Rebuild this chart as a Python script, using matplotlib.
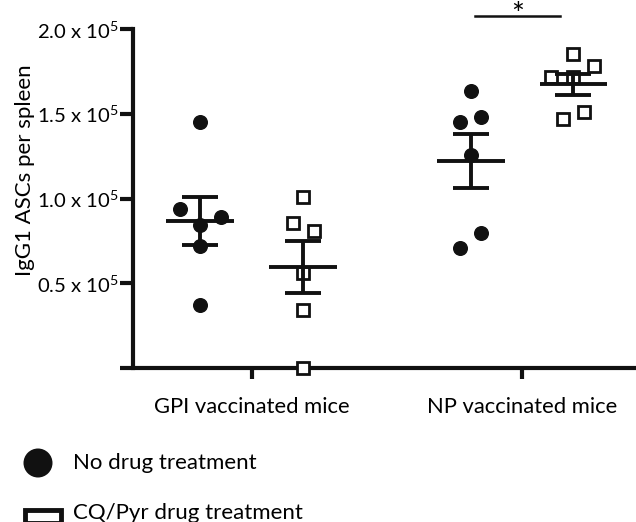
import matplotlib
matplotlib.use("Agg")
import matplotlib.pyplot as plt
import numpy as np
from matplotlib.patches import Ellipse, Rectangle

plt.rcParams['font.family'] = ['Lato', 'DejaVu Sans']
plt.rcParams['mathtext.fontset'] = 'custom'
plt.rcParams['mathtext.rm'] = 'Lato'

# data (ASCs per spleen)
groups = ["GPI vaccinated mice", "NP vaccinated mice"]
gpi_no_drug = [145000, 93600, 88900, 84400, 72000, 37000]
gpi_cq_pyr = [101000, 85700, 80800, 55900, 34200, 0]
np_no_drug = [163600, 148100, 145000, 125700, 79500, 71000]
np_cq_pyr = [185100, 178400, 171500, 171500, 151200, 146900]
legend_labels = ["No drug treatment", "CQ/Pyr drug treatment"]
ytick_vals = [0.5e5, 1.0e5, 1.5e5, 2.0e5]
ytick_text = ["0.5 x 10$^{5}$", "1.0 x 10$^{5}$", "1.5 x 10$^{5}$", "2.0 x 10$^{5}$"]

# layout: horizontal scatter of the points inside each column
jitter = {
    "gpi_no": [0.0, -0.074, 0.076, 0.0, 0.0, 0.0],
    "gpi_cq": [0.0, -0.035, 0.04, 0.0, 0.0, 0.0],
    "np_no": [0.0, 0.037, -0.038, 0.0, 0.037, -0.038],
    "np_cq": [0.0, 0.074, -0.083, 0.0, 0.04, -0.04],
}

fig = plt.figure(figsize=(6.36, 5.22), dpi=100)
ax = fig.add_axes([133 / 636, 154 / 522, 503 / 636, 339 / 522])

off = 0.19
cols = [
    (1 - off, gpi_no_drug, "gpi_no", "o"),
    (1 + off, gpi_cq_pyr, "gpi_cq", "s"),
    (2 - off, np_no_drug, "np_no", "o"),
    (2 + off, np_cq_pyr, "np_cq", "s"),
]

for xc, vals, key, mk in cols:
    vals = np.array(vals, dtype=float)
    xs = xc + np.array(jitter[key])
    if mk == "o":
        ax.plot(xs, vals, ls="", marker="o", ms=9.8, color="#111111",
                clip_on=False, zorder=3)
    else:
        ax.plot(xs, vals, ls="", marker="s", ms=8.2, mfc="white",
                mec="#111111", mew=2.0, clip_on=False, zorder=3)
    m = vals.mean()
    sem = vals.std(ddof=1) / np.sqrt(len(vals))
    ax.plot([xc - 0.125, xc + 0.125], [m, m], color="#111111", lw=2.8,
            solid_capstyle="butt", zorder=4)
    ax.errorbar([xc], [m], yerr=[sem], fmt="none", ecolor="#111111",
                elinewidth=2.8, capsize=13, capthick=2.8, zorder=4)

# significance bar
ax.plot([1.826, 2.14], [207900, 207900], color="#111111", lw=1.8, clip_on=False)
ax.text(1.983, 216600, "*", ha="center", va="top", fontsize=22, clip_on=False)

ax.set_xlim(0.562, 2.421)
ax.set_ylim(0, 2.0e5)
ax.set_xticks([1, 2])
ax.set_xticklabels(groups, fontsize=15.8)
ax.set_yticks(ytick_vals)
ax.set_yticklabels(ytick_text, fontsize=14.6)
ax.set_ylabel("IgG1 ASCs per spleen", fontsize=16)
ax.yaxis.set_label_coords(-0.195, 0.584)

for s in ["top", "right", "bottom"]:
    ax.spines[s].set_visible(False)
ax.spines["left"].set_linewidth(3.0)
ax.spines["left"].set_color("#111111")
# x axis line sticks out a bit left of the y axis
ax.plot([-13 / 503, 1], [0, 0], transform=ax.transAxes, color="#111111",
        lw=3.0, clip_on=False, solid_capstyle="butt", zorder=2)
ax.tick_params(axis="y", length=9.5, width=3.0, pad=0.5, color="#111111")
ax.tick_params(axis="x", length=8, width=3.0, pad=13, color="#111111")

# legend
W, H = 636, 522
fig.add_artist(Ellipse((38 / W, 1 - 463 / H), 29 / W, 29 / H,
                       transform=fig.transFigure, facecolor="#111111",
                       edgecolor="none"))
fig.add_artist(Rectangle((25 / W, 1 - 523 / H), 36 / W, 13.5 / H,
                         transform=fig.transFigure, facecolor="white",
                         edgecolor="#111111", lw=3.5, clip_on=False))
fig.text(73 / W, 1 - 463 / H, legend_labels[0], fontsize=16, va="center")
fig.text(73 / W, 1 - 513 / H, legend_labels[1], fontsize=16, va="center")

fig.savefig("out.png", dpi=100)
